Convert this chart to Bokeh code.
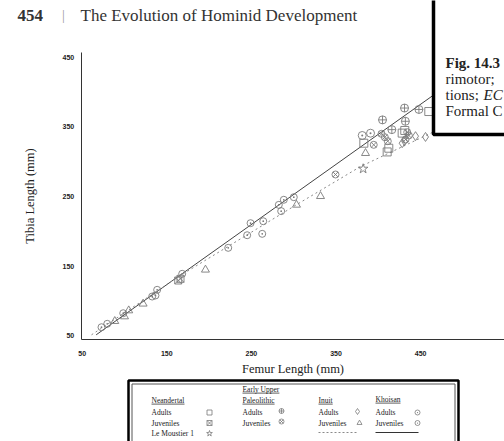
from bokeh.plotting import figure
from bokeh.models import Range1d, FixedTicker
from bokeh.core.properties import value
from bokeh.embed import file_html
from bokeh.resources import INLINE

# ---------------- data (femur length, tibia length in mm) ----------------
neand_adult_femur = [382.9, 410.5, 412.4, 428.2, 431.3, 459.7]
neand_adult_tibia = [326.5, 314.0, 319.3, 341.0, 344.8, 372.0]

neand_juv_femur = [163.5, 166.2]
neand_juv_tibia = [129.4, 131.8]

le_moustier_femur = [382.1]
le_moustier_tibia = [289.8]

eup_adult_femur = [405.0, 416.0, 431.0, 432.0, 448.0]
eup_adult_tibia = [360.0, 346.0, 377.0, 358.0, 375.0]

eup_juv_femur = [349.4, 394.6, 403.8, 407.7, 411.2, 434.2, 436.1, 432.2]
eup_juv_tibia = [281.6, 324.2, 340.0, 335.1, 329.4, 342.3, 337.6, 331.8]

inuit_adult_femur = [428.2, 431.0, 444.0, 455.8]
inuit_adult_tibia = [326.5, 329.4, 336.6, 335.5]

inuit_juv_femur = [88.5, 100.0, 105.0, 122.0, 195.7, 303.3, 331.7, 384.9]
inuit_juv_tibia = [71.0, 77.7, 86.3, 96.0, 144.8, 238.0, 250.4, 312.2]

khoisan_adult_femur = [381.0, 390.8]
khoisan_adult_tibia = [337.6, 340.9]

khoisan_juv_femur = [72.8, 79.6, 98.5, 132.7, 136.6, 138.6, 168.2, 222.6,
                     245.0, 262.8, 249.0, 264.0, 282.4, 288.3, 285.2, 300.1]
khoisan_juv_tibia = [62.3, 67.2, 82.4, 106.4, 107.9, 116.0, 139.0, 176.3,
                     194.4, 196.4, 211.7, 214.5, 238.0, 245.3, 229.0, 249.0]

# fitted lines
khoisan_fit_femur = [66.5, 475.0]
khoisan_fit_tibia = [51.4, 404.0]
inuit_fit_femur = [61.0, 166.0, 303.0, 379.0, 464.0, 480.0]
inuit_fit_tibia = [51.4, 136.5, 238.0, 293.0, 342.0, 350.0]

x_ticks = [50, 150, 250, 350, 450]
y_ticks = [50, 150, 250, 350, 450]

header_page = "454"
header_title = "The Evolution of Hominid Development"
caption_lines = ["Fig. 14.3", "rimotor;", "tions; ", "Formal C"]
caption_italic = "EC"

legend_groups = ["Neandertal", "Early Upper", "Paleolithic", "Inuit", "Khoisan"]
legend_rows_neand = ["Adults", "Juveniles", "Le Moustier 1"]
legend_rows_other = ["Adults", "Juveniles"]

# ---------------- layout helpers: page pixel -> data ----------------
W, H = 504, 441
PX_X, PX_Y = 0.846, 0.6965          # pixels per mm on each axis
X50, Y50 = 81.7, 335.3              # pixel position of the value 50

def X(px):
    return 50 + (px - X50) / PX_X

def Y(py):
    return 50 + (Y50 - py) / PX_Y

p = figure(width=W, height=H, output_backend="svg", toolbar_location=None,
           x_range=Range1d(X(0), X(W)), y_range=Range1d(Y(H), Y(0)),
           min_border_left=0, min_border_right=0, min_border_top=0, min_border_bottom=0)
p.outline_line_color = None
p.grid.visible = False
p.background_fill_color = "white"
p.border_fill_color = "white"

xa, ya = p.xaxis[0], p.yaxis[0]
for ax in (xa, ya):
    ax.major_tick_in = 0
    ax.major_tick_out = 0
    ax.minor_tick_in = 0
    ax.minor_tick_out = 0
    ax.axis_line_color = "#333333"
    ax.axis_line_width = 1
    ax.major_label_text_font = "Liberation Sans"
    ax.major_label_text_font_style = "bold"
    ax.major_label_text_font_size = "7px"
    ax.major_label_text_color = "#222222"
    ax.axis_label_text_font = "Liberation Serif"
    ax.axis_label_text_font_style = "normal"
    ax.axis_label_text_font_size = "12.5px"
    ax.axis_label_text_color = "#222222"

xa.ticker = FixedTicker(ticks=x_ticks)
ya.ticker = FixedTicker(ticks=y_ticks)
xa.axis_label = "Femur Length (mm)"
ya.axis_label = "Tibia Length (mm)"
xa.fixed_location = Y(339)
ya.fixed_location = X(80.7)
xa.bounds = (X(80.7), X(510))
ya.bounds = (Y(339), Y(52))
xa.major_label_standoff = 11
xa.axis_label_standoff = 3
ya.major_label_standoff = 7
ya.axis_label_standoff = 23

GRAY = "#7a7a7a"
p.line(khoisan_fit_femur, khoisan_fit_tibia, line_color="#444444", line_width=1)
p.line(inuit_fit_femur, inuit_fit_tibia, line_color="#8a8a8a", line_width=1, line_dash="2 3")

def pts(xs, ys, marker, size):
    p.scatter(xs, ys, marker=marker, size=size, line_color=GRAY, fill_color=None, line_width=0.9)

pts(khoisan_juv_femur, khoisan_juv_tibia, "circle_dot", 7)
pts(khoisan_adult_femur, khoisan_adult_tibia, "circle_dot", 8)
pts(inuit_juv_femur, inuit_juv_tibia, "triangle", 8)
pts(inuit_adult_femur, inuit_adult_tibia, "diamond", 9)
pts(neand_juv_femur, neand_juv_tibia, "square_x", 7)
pts(neand_adult_femur, neand_adult_tibia, "square", 8)
pts(eup_juv_femur, eup_juv_tibia, "circle_x", 7)
pts(eup_adult_femur, eup_adult_tibia, "circle_cross", 8)
pts(le_moustier_femur, le_moustier_tibia, "star", 10)

SERIF = value("Liberation Serif")

def txt(px, py, t, size, style="normal", color="#222222", align="left"):
    p.text(x=[X(px)], y=[Y(py)], text=[t], text_font=SERIF, text_font_size=size,
           text_font_style=style, text_color=color, text_baseline="middle", text_align=align)

# page header
txt(17, 15, header_page, "17px", "bold", "#333333")
txt(63, 15, "|", "14px", "normal", "#999999", "center")
txt(80, 15, header_title, "17px", "normal", "#333333")

# caption box at the top right
p.quad(left=[X(433)], right=[X(530)], top=[Y(-20)], bottom=[Y(134)],
       fill_color="white", line_color="black", line_width=3.5)
cap_y = [62, 78, 94, 110]
for i, t in enumerate(caption_lines):
    txt(445, cap_y[i], t, "15px", "bold" if i == 0 else "normal")
txt(483, cap_y[2], caption_italic, "15px", "italic")

# ---------------- legend box below the chart ----------------
p.quad(left=[X(128)], right=[X(458)], top=[Y(380)], bottom=[Y(460)], fill_color=None,
       line_color="black", line_width=2.5)
p.quad(left=[X(131.5)], right=[X(454.5)], top=[Y(383.5)], bottom=[Y(460)], fill_color=None,
       line_color="#555555", line_width=1)

TXT = "#1a1a1a"
head_px = [151, 242, 242, 318, 375]
head_py = [400, 389, 400, 400, 399]
head_w = [33, 36.9, 32.1, 14.2, 25.0]
for hx, hy, hw, t in zip(head_px, head_py, head_w, legend_groups):
    txt(hx, hy, t, "7.5px", "normal", TXT)
    p.segment(x0=[X(hx)], y0=[Y(hy + 3.6)], x1=[X(hx + hw)], y1=[Y(hy + 3.6)],
              line_color=TXT, line_width=0.7)

row_py = [412, 422.5, 433]
for t, ry in zip(legend_rows_neand, row_py):
    txt(151, ry, t, "7.5px", "normal", TXT)
for cx in (242, 318, 375):
    for t, ry in zip(legend_rows_other, row_py):
        txt(cx, ry, t, "7.5px", "normal", TXT)

def sym(px, py, marker, size):
    p.scatter([X(px)], [Y(py)], marker=marker, size=size, line_color=GRAY,
              fill_color=None, line_width=0.8)

sym(209, row_py[0], "square", 5)
sym(209, row_py[1], "square_x", 5)
sym(209, row_py[2], "star", 6)
sym(281, row_py[0] - 1.5, "circle_cross", 5)
sym(281, row_py[1] - 1.5, "circle_x", 5)
sym(357, row_py[0] - 1, "diamond", 6)
sym(359, row_py[1], "triangle", 5)
sym(417, row_py[0], "circle_dot", 5)
sym(417, row_py[1], "circle_dot", 5)

p.line([X(318), X(357)], [Y(432), Y(432)], line_color="#8a8a8a", line_width=1, line_dash="2 2")
p.line([X(375), X(418)], [Y(432), Y(432)], line_color="#333333", line_width=1)

open("out.html", "w").write(file_html(p, INLINE))
